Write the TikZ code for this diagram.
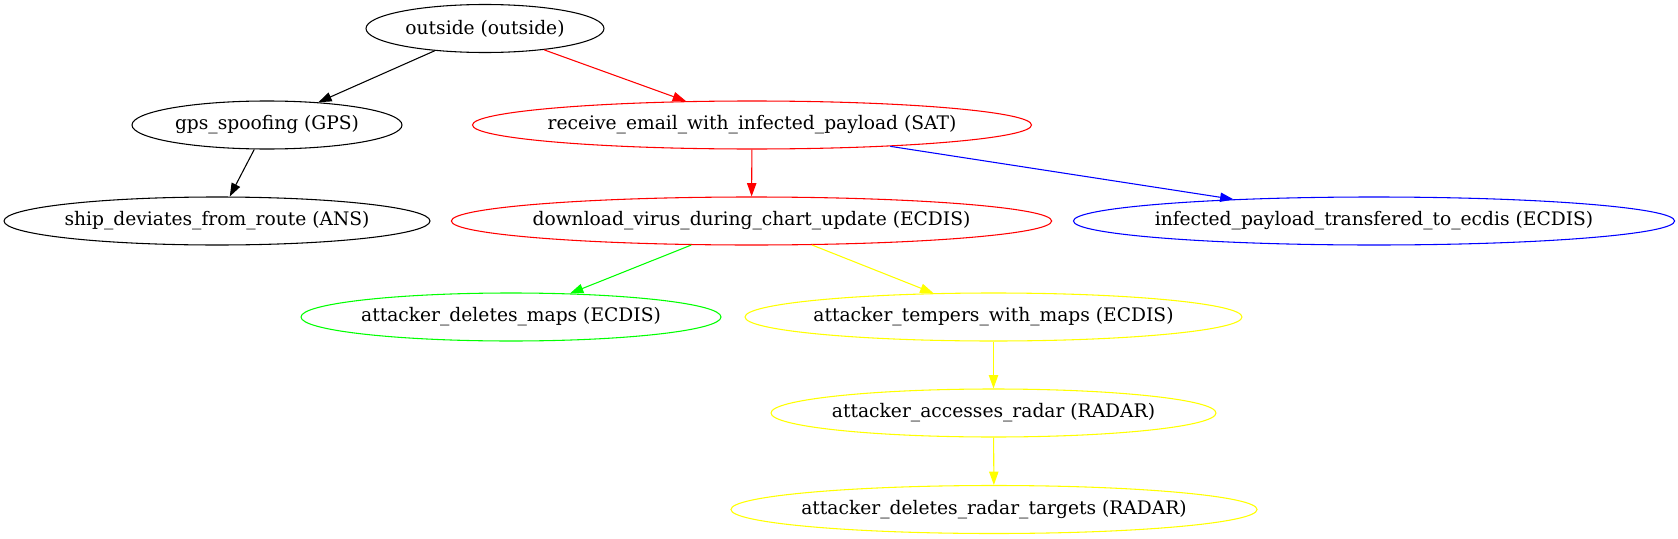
\documentclass[tikz,border=0pt]{standalone}
\usepackage{fontspec}
\setmainfont{DejaVu Serif}
\usetikzlibrary{arrows.meta,shapes.geometric}
\definecolor{gvgreen}{RGB}{0,255,0}
\definecolor{gvyellow}{RGB}{255,255,0}
\begin{document}
\begin{tikzpicture}[x=0.75pt,y=-0.75pt,line width=0.8pt,>={Triangle[length=10pt,width=7pt]},
	act/.style={ellipse, draw, inner xsep=-5pt, inner ysep=0pt, minimum height=36pt, font=\fontsize{14pt}{17pt}\selectfont}]
	\useasboundingbox (0,0) rectangle (1678,539);
	\node (outside)  at ( 485,   28.5)	[act, minimum width=178.5pt]	{outside (outside)};
	\node (gps)      at ( 267,  125)	[act, minimum width=202.5pt]	{gps\_spoofing (GPS)};
	\node (email)    at ( 752,  125)	[act, draw=red, minimum width=418.5pt]	{receive\_email\_with\_infected\_payload (SAT)};
	\node (ship)     at ( 217,  221)	[act, minimum width=319.5pt]	{ship\_deviates\_from\_route (ANS)};
	\node (download) at ( 751.5, 221)	[act, draw=red, minimum width=447.75pt]	{download\_virus\_during\_chart\_update (ECDIS)};
	\node (infected) at (1374,  221)	[act, draw=blue, minimum width=448.5pt]	{infected\_payload\_transfered\_to\_ecdis (ECDIS)};
	\node (delmaps)  at ( 511,  317)	[act, draw=gvgreen, minimum width=315pt]	{attacker\_deletes\_maps (ECDIS)};
	\node (tempers)  at ( 993.5, 317)	[act, draw=gvyellow, minimum width=372.75pt]	{attacker\_tempers\_with\_maps (ECDIS)};
	\node (radar)    at ( 993.5, 413)	[act, draw=gvyellow, minimum width=333.75pt]	{attacker\_accesses\_radar (RADAR)};
	\node (targets)  at ( 994,  509.5)	[act, draw=gvyellow, minimum width=393pt]	{attacker\_deletes\_radar\_targets (RADAR)};
	\draw[->] (outside) -- (gps);
	\draw[->, red] (outside) -- (email);
	\draw[->] (gps) -- (ship);
	\draw[->, red] (email) -- (download);
	\draw[->, blue] (email) -- (infected);
	\draw[->, gvgreen] (download) -- (delmaps);
	\draw[->, gvyellow] (download) -- (tempers);
	\draw[->, gvyellow] (tempers) -- (radar);
	\draw[->, gvyellow] (radar) -- (targets);
\end{tikzpicture}
\end{document}
